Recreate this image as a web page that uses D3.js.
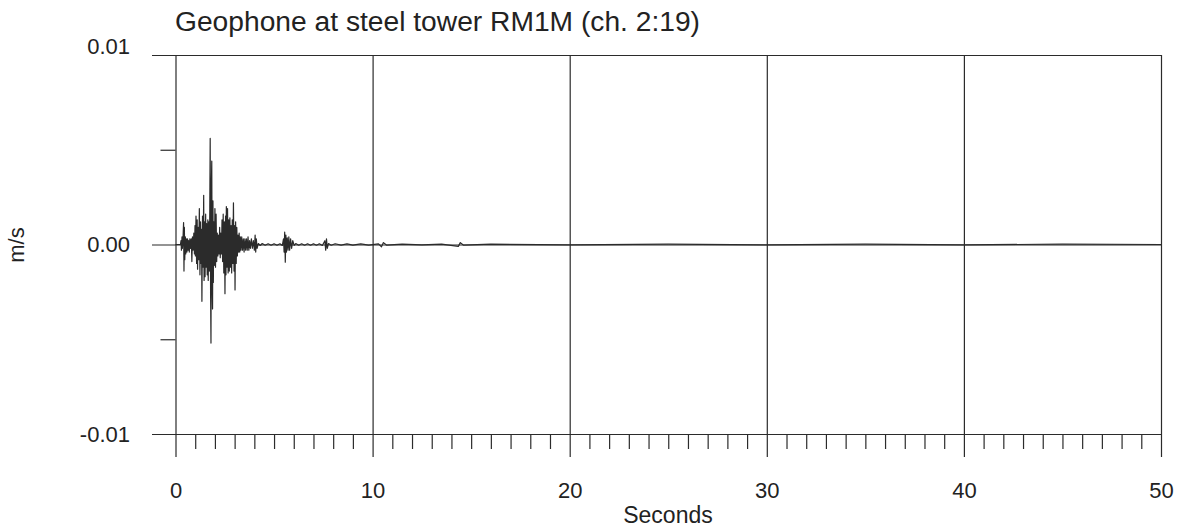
<!DOCTYPE html>
<html>
<head>
<meta charset="utf-8">
<script src="https://cdn.jsdelivr.net/npm/d3@7"></script>
<style>
  html, body { margin: 0; padding: 0; background: #fff; }
  svg { display: block; font-family: "Liberation Sans", Arial, sans-serif; }
</style>
</head>
<body>
<svg id="chart"></svg>
<script>
const title = "Geophone at steel tower RM1M (ch. 2:19)";
const xLabel = "Seconds";
const yLabel = "m/s";

const xMajorTicks = [0, 10, 20, 30, 40, 50];
const yMajorTicks = [0.01, 0, -0.01];
const yTickLabels = ["0.01", "0.00", "-0.01"];
const yMinorTicks = [0.005, -0.005];

// trace: time in seconds, velocity in mm/s
const traceSeconds = [
  0, 0.25, 0.28, 0.30, 0.33, 0.35, 0.38, 0.41, 0.43, 0.45,
  0.47, 0.50, 0.52, 0.55, 0.58, 0.61, 0.64, 0.67, 0.70, 0.73,
  0.76, 0.80, 0.83, 0.86, 0.89, 0.93, 0.96, 0.99, 1.01, 1.04,
  1.07, 1.10, 1.12, 1.15, 1.18, 1.21, 1.24, 1.27, 1.30, 1.32,
  1.34, 1.37, 1.40, 1.43, 1.45, 1.48, 1.50, 1.53, 1.55, 1.58,
  1.61, 1.64, 1.66, 1.69, 1.72, 1.74, 1.76, 1.78, 1.80, 1.82,
  1.84, 1.86, 1.88, 1.90, 1.92, 1.94, 1.97, 2.00, 2.03, 2.06,
  2.09, 2.12, 2.15, 2.18, 2.21, 2.24, 2.27, 2.30, 2.33, 2.36,
  2.39, 2.42, 2.45, 2.48, 2.51, 2.54, 2.56, 2.58, 2.61, 2.64,
  2.67, 2.70, 2.73, 2.76, 2.79, 2.82, 2.85, 2.88, 2.91, 2.94,
  2.97, 3.00, 3.02, 3.05, 3.08, 3.11, 3.14, 3.17, 3.20, 3.23,
  3.26, 3.29, 3.32, 3.36, 3.40, 3.44, 3.48, 3.52, 3.56, 3.60,
  3.64, 3.68, 3.72, 3.76, 3.80, 3.85, 3.90, 3.95, 4.00, 4.04,
  4.07, 4.10, 4.14, 4.20, 4.30, 4.40, 4.55, 4.70, 4.85, 5.00,
  5.15, 5.30, 5.42, 5.48, 5.51, 5.54, 5.57, 5.60, 5.63, 5.67,
  5.71, 5.75, 5.79, 5.84, 5.89, 5.95, 6.02, 6.10, 6.25, 6.40,
  6.55, 6.70, 6.85, 7.00, 7.15, 7.30, 7.45, 7.58, 7.62, 7.66,
  7.70, 7.76, 7.90, 8.10, 8.40, 8.70, 9.00, 9.40, 9.80, 10.30,
  10.45, 10.55, 10.70, 11.5, 12.5, 13.5, 14.35, 14.45, 14.6, 16,
  20, 25, 30, 35, 40, 45, 50
];
const traceMmPerSec = [
  0, 0, 0.2, -0.3, 0.4, -0.2, 0.3, 1.16, -1.4, 0.9,
  -0.8, 0.4, -0.5, 0.3, -0.4, 0.3, -0.3, 0.2, -0.4, 0.3,
  -0.2, 0.3, -0.9, 0.4, -0.3, 0.6, -0.5, 1.0, -0.6, 1.5,
  -1.0, 1.3, -1.3, 0.9, -0.8, 1.9, -1.6, 1.2, -1.0, 0.8,
  -3.0, 1.5, -1.2, 2.6, -1.9, 1.2, -1.7, 1.6, -1.2, 1.1,
  -1.6, 1.3, -1.9, 1.2, -1.4, 2.0, 5.6, -2.5, -5.2, 3.0,
  4.4, -2.2, -3.4, 2.3, -2.0, 1.2, -1.1, 1.9, -1.2, 1.6,
  -0.9, 0.6, -0.6, 0.5, -0.5, 0.9, -0.7, 0.6, -0.5, 1.3,
  -0.9, 1.6, -1.5, 1.2, -2.6, 1.5, -1.6, 2.0, -1.2, 1.9,
  -1.5, 1.3, -1.4, 1.4, -1.2, 1.0, -1.5, 1.3, -1.0, 2.2,
  -1.4, 1.0, -2.4, 1.2, -1.0, 0.9, -0.6, 0.5, -0.4, 0.6,
  -0.4, 0.4, -0.3, 0.4, -0.3, 0.3, -0.4, 0.3, -0.3, 0.3,
  -0.3, 0.4, -0.3, 0.2, -0.2, 0.3, -0.2, 0.2, -0.3, 0.5,
  -0.4, 0.3, -0.2, 0.05, -0.05, 0.05, -0.04, 0.04, -0.04, 0.04,
  -0.04, 0.04, -0.05, 0.3, -0.4, 0.65, -0.93, 0.5, -0.4, 0.35,
  -0.3, 0.4, -0.3, 0.3, -0.2, 0.2, -0.05, 0.05, -0.04, 0.04,
  -0.04, 0.04, -0.04, 0.04, -0.04, 0.04, -0.05, 0.2, -0.3, 0.3,
  -0.2, 0.05, -0.04, 0.04, -0.03, 0.03, -0.03, 0.03, -0.03, 0.03,
  -0.12, 0.1, -0.03, 0.02, -0.02, 0.02, -0.1, 0.1, -0.03, 0.02,
  -0.02, 0.02, -0.02, 0.02, -0.02, 0.02, 0
];

const width = 1184;
const height = 531;
const ink = "#2b2b2b";

const svg = d3.select("#chart").attr("width", width).attr("height", height);
svg.append("rect").attr("width", width).attr("height", height).attr("fill", "#fff");

const x = d3.scaleLinear().domain([0, 50]).range([175.5, 1161]);
const y = d3.scaleLinear().domain([-0.01, 0.01]).range([434, 55]);

const xMinorTicks = d3.range(1, 50).filter((d) => d % 10 !== 0);

// minor ticks under the bottom line
svg.append("g")
  .attr("transform", `translate(0,${y(-0.01)})`)
  .call(d3.axisBottom(x).tickValues(xMinorTicks).tickSize(15).tickFormat(""))
  .call((g) => g.select(".domain").remove());

// vertical grid + major ticks + labels
svg.append("g")
  .attr("transform", "translate(0,457)")
  .call(d3.axisBottom(x).tickValues(xMajorTicks).tickSize(-(457 - 55)).tickPadding(25))
  .call((g) => g.select(".domain").remove());

// horizontal grid + labels
svg.append("g")
  .attr("transform", "translate(152,0)")
  .call(
    d3.axisLeft(y)
      .tickValues(yMajorTicks)
      .tickSize(-(x(50) - 152))
      .tickPadding(22)
      .tickFormat((d, i) => yTickLabels[i])
  )
  .call((g) => g.select(".domain").remove())
  .call((g) => g.selectAll(".tick").filter((d) => d === 0.01).select("text").attr("dy", "-0.05em"));

// minor ticks left of the axis
svg.append("g")
  .attr("transform", `translate(${x(0)},0)`)
  .call(d3.axisLeft(y).tickValues(yMinorTicks).tickSize(15).tickFormat(""))
  .call((g) => g.select(".domain").remove());

svg.selectAll(".tick line").attr("stroke", ink).attr("stroke-width", 1.2);
svg.selectAll(".tick text")
  .attr("fill", "#222")
  .style("font-family", '"Liberation Sans", Arial, sans-serif')
  .style("font-size", "22px");

// the trace
const points = d3.zip(traceSeconds, traceMmPerSec.map((v) => v / 1000));
svg.append("path")
  .datum(points)
  .attr("fill", "none")
  .attr("stroke", ink)
  .attr("stroke-width", 1.2)
  .attr("stroke-linejoin", "round")
  .attr("d", d3.line().x((d) => x(d[0])).y((d) => y(d[1])));

svg.append("text")
  .attr("x", 175)
  .attr("y", 31)
  .attr("fill", "#222")
  .attr("textLength", 525)
  .attr("lengthAdjust", "spacingAndGlyphs")
  .style("font-size", "27px")
  .text(title);

svg.append("text")
  .attr("x", 668)
  .attr("y", 523)
  .attr("text-anchor", "middle")
  .attr("fill", "#222")
  .style("font-size", "23px")
  .text(xLabel);

svg.append("text")
  .attr("transform", "translate(24,245) rotate(-90)")
  .attr("text-anchor", "middle")
  .attr("fill", "#222")
  .style("font-size", "22px")
  .text(yLabel);
</script>
</body>
</html>
